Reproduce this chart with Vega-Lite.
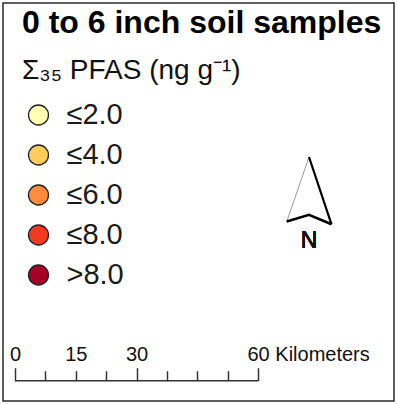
{
  "$schema": "https://vega.github.io/schema/vega-lite/v6.json",
  "description": "Map legend card: PFAS classes for 0 to 6 inch soil samples, north arrow and scale bar.",
  "width": 391,
  "height": 398,
  "padding": {"left": 3, "top": 3, "right": 4, "bottom": 3},
  "autosize": {"type": "none"},
  "background": "white",
  "config": {
    "font": "Liberation Sans",
    "view": {"stroke": "#2b2b2b", "strokeWidth": 1.5}
  },
  "title": {
    "text": "0 to 6 inch soil samples",
    "subtitle": "Σ₃₅ PFAS (ng g⁻¹)",
    "orient": "top",
    "anchor": "start",
    "frame": "group",
    "offset": -83,
    "dx": 19,
    "font": "Liberation Sans",
    "fontSize": 32,
    "fontWeight": "bold",
    "color": "#000000",
    "subtitleFont": "Liberation Sans",
    "subtitleFontSize": 28,
    "subtitleColor": "#111111",
    "subtitlePadding": 17
  },
  "resolve": {"scale": {"x": "independent", "y": "independent"}},
  "layer": [
    {
      "data": {
        "values": [
          {"class": "≤2.0"},
          {"class": "≤4.0"},
          {"class": "≤6.0"},
          {"class": "≤8.0"},
          {"class": ">8.0"}
        ]
      },
      "encoding": {
        "y": {
          "field": "class",
          "type": "ordinal",
          "sort": null,
          "scale": {"type": "point", "range": [112, 272], "padding": 0},
          "axis": null
        }
      },
      "layer": [
        {
          "mark": {"type": "circle", "size": 400, "opacity": 1, "stroke": "#222222", "strokeWidth": 1.3},
          "encoding": {
            "x": {
              "datum": "swatch",
              "type": "ordinal",
              "scale": {"type": "point", "domain": ["swatch", "label"], "range": [35.5, 63.5], "padding": 0},
              "axis": null
            },
            "color": {
              "field": "class",
              "type": "nominal",
              "sort": null,
              "scale": {
                "domain": ["≤2.0", "≤4.0", "≤6.0", "≤8.0", ">8.0"],
                "range": ["#FFFFB2", "#FECC5C", "#FD8D3C", "#F03B20", "#A50026"]
              },
              "legend": null
            }
          }
        },
        {
          "mark": {"type": "text", "align": "left", "baseline": "middle", "fontSize": 29, "color": "#1a1a1a"},
          "encoding": {
            "x": {"datum": "label", "type": "ordinal"},
            "text": {"field": "class"}
          }
        }
      ]
    },
    {
      "data": {
        "values": [
          {"part": "west", "i": 0, "east": 0, "north": 1},
          {"part": "west", "i": 1, "east": -0.99, "north": 0.04},
          {"part": "east", "i": 0, "east": 0, "north": 1},
          {"part": "east", "i": 1, "east": 1, "north": 0},
          {"part": "base", "i": 0, "east": -0.99, "north": 0.04},
          {"part": "base", "i": 1, "east": 0, "north": 0.14},
          {"part": "base", "i": 2, "east": 1, "north": 0}
        ]
      },
      "encoding": {
        "x": {"field": "east", "type": "quantitative", "scale": {"domain": [-1, 1], "range": [283.5, 328.5]}, "axis": null},
        "y": {"field": "north", "type": "quantitative", "scale": {"domain": [0, 1], "range": [221.3, 154]}, "axis": null},
        "order": {"field": "i", "type": "quantitative"}
      },
      "layer": [
        {
          "transform": [{"filter": "datum.part === 'west'"}],
          "mark": {"type": "line", "color": "#9a9a9a", "strokeWidth": 1},
          "encoding": {}
        },
        {
          "transform": [{"filter": "datum.part === 'east'"}],
          "mark": {"type": "line", "color": "#000000", "strokeWidth": 2.2},
          "encoding": {}
        },
        {
          "transform": [{"filter": "datum.part === 'base'"}],
          "mark": {"type": "line", "color": "#000000", "strokeWidth": 2.6, "strokeJoin": "miter"},
          "encoding": {}
        },
        {
          "mark": {"type": "text", "text": "N", "fontSize": 23, "fontWeight": "normal", "align": "center", "baseline": "middle", "color": "#111111"},
          "encoding": {
            "x": {"datum": 0, "type": "quantitative"},
            "y": {"datum": -0.25, "type": "quantitative"},
            "order": null
          }
        }
      ]
    },
    {
      "data": {"values": [{"from_km": 0, "to_km": 60}]},
      "mark": {"type": "rule", "color": "#333333", "strokeWidth": 1.5},
      "encoding": {
        "x": {
          "field": "from_km",
          "type": "quantitative",
          "scale": {"domain": [0, 60], "range": [12, 255]},
          "axis": {
            "orient": "top",
            "offset": -377.7,
            "title": null,
            "grid": false,
            "domain": false,
            "values": [0, 7.5, 15, 22.5, 30, 37.5, 45, 52.5, 60],
            "tickColor": "#333333",
            "tickWidth": 1.5,
            "tickSize": {"condition": {"test": "datum.value % 30 === 0", "value": 13}, "value": 10},
            "labelExpr": "datum.value === 60 ? '60 Kilometers' : (datum.value === 0 || datum.value === 15 || datum.value === 30 ? '' + datum.value : '')",
            "labelAlign": {"condition": {"test": "datum.value === 60", "value": "left"}, "value": "center"},
            "labelOffset": {"condition": {"test": "datum.value === 60", "value": -11}, "value": 0},
            "labelFont": "Liberation Sans",
            "labelFontSize": 20,
            "labelColor": "#111111",
            "labelPadding": {"condition": {"test": "datum.value % 30 === 0", "value": 3}, "value": 6},
            "labelFlush": false,
            "labelOverlap": false,
            "labelBound": false
          }
        },
        "x2": {"field": "to_km"},
        "y": {"datum": 0, "type": "quantitative", "scale": {"domain": [0, 1], "range": [377.7, 0]}, "axis": null}
      }
    }
  ]
}
